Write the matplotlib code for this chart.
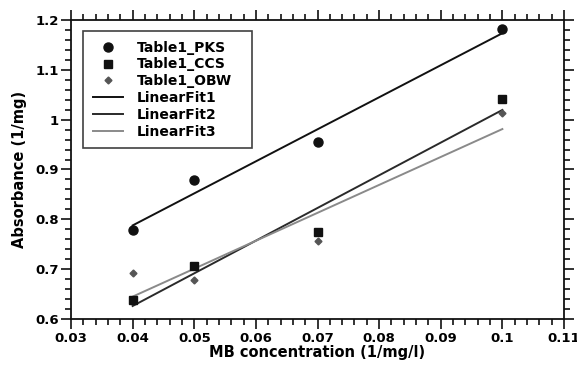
import numpy as np
import matplotlib
matplotlib.use("Agg")
import matplotlib.pyplot as plt
from matplotlib.ticker import MultipleLocator

conc = [0.04, 0.05, 0.07, 0.1]
pks = [0.779, 0.878, 0.955, 1.182]
ccs = [0.638, 0.706, 0.775, 1.041]
obw = [0.692, 0.678, 0.757, 1.013]

plt.rcParams['font.family'] = ['DejaVu Sans']
plt.rcParams['font.weight'] = 'bold'

fig = plt.figure(figsize=(5.77, 3.67), dpi=100)
ax = fig.add_axes([71/577, 1-319/367, (564-71)/577, (319-20)/367])

x = np.array(conc)
ax.plot(conc, pks, 'o', color='#111111', ms=6.5, label='Table1_PKS', zorder=3)
ax.plot(conc, ccs, 's', color='#111111', ms=6, label='Table1_CCS', zorder=3)
ax.plot(conc, obw, 'D', color='#555555', ms=3.5, label='Table1_OBW', zorder=3)

fit_colors = ['#111111', '#2a2a2a', '#8a8a8a']
for i, (ys, c) in enumerate(zip([pks, ccs, obw], fit_colors)):
    m, b = np.polyfit(x, np.array(ys), 1)
    xx = np.array([x.min(), x.max()])
    ax.plot(xx, m*xx + b, '-', color=c, lw=1.4, label=f'LinearFit{i+1}', zorder=2)

ax.set_xlim(0.03, 0.11)
ax.set_ylim(0.6, 1.2)
ax.xaxis.set_minor_locator(MultipleLocator(0.002))
ax.yaxis.set_minor_locator(MultipleLocator(0.02))
ax.set_xticks(np.arange(0.03, 0.1101, 0.01))
ax.set_xticklabels(['0.03', '0.04', '0.05', '0.06', '0.07', '0.08', '0.09', '0.1', '0.11'])
ax.set_yticks(np.arange(0.6, 1.2001, 0.1))
ax.set_yticklabels(['0.6', '0.7', '0.8', '0.9', '1', '1.1', '1.2'])

ax.tick_params(which='both', direction='out', top=True, right=True,
               labeltop=False, labelright=False, width=1.2, color='#111111')
ax.tick_params(which='major', length=7, labelsize=9.5, pad=2)
ax.tick_params(which='minor', length=4)
for lab in ax.get_xticklabels() + ax.get_yticklabels():
    lab.set_fontweight('bold')
for s in ax.spines.values():
    s.set_linewidth(1.3)
    s.set_color('#111111')

ax.set_xlabel('MB concentration (1/mg/l)', fontsize=10.5, fontweight='bold', labelpad=0)
ax.set_ylabel('Absorbance (1/mg)', fontsize=10.5, fontweight='bold', labelpad=6)

leg = ax.legend(loc='upper left',
                bbox_to_anchor=(12/493, 1-11/299 - 0.5, (252-83)/493, 0.5),
                mode='expand', borderaxespad=0,
                frameon=True, fancybox=False, edgecolor='#111111', fontsize=10,
                handlelength=2.2, borderpad=0.7, labelspacing=0.2, handletextpad=1.0)
leg.get_frame().set_linewidth(1.2)
for t in leg.get_texts():
    t.set_fontweight('bold')

fig.savefig('out.png', dpi=100)
